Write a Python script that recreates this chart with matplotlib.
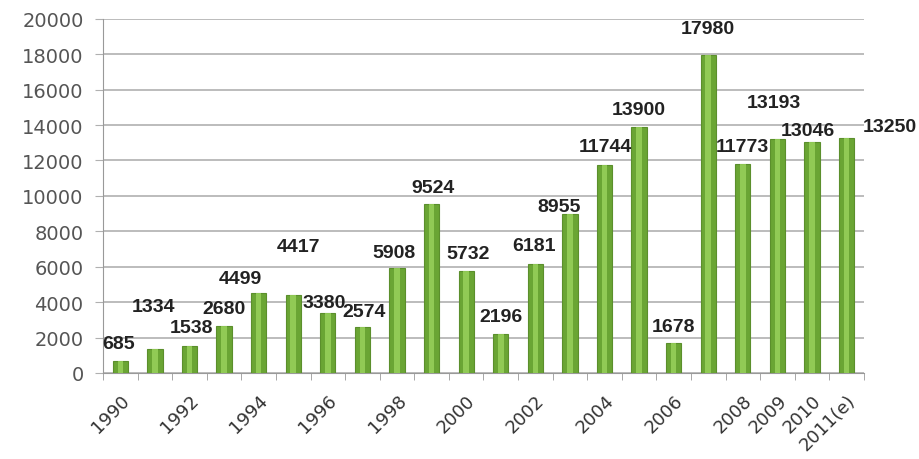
import matplotlib
matplotlib.use("Agg")
import matplotlib.pyplot as plt
import numpy as np

# data
years = ['1990', '1991', '1992', '1993', '1994', '1995', '1996', '1997', '1998', '1999', '2000',
         '2001', '2002', '2003', '2004', '2005', '2006', '2007', '2008', '2009', '2010', '2011(e)']
values = [685, 1334, 1538, 2680, 4499, 4417, 3380, 2574, 5908, 9524, 5732,
          2196, 6181, 8955, 11744, 13900, 1678, 17980, 11773, 13193, 13046, 13250]
shown_labels = ['1990', '', '1992', '', '1994', '', '1996', '', '1998', '', '2000',
                '', '2002', '', '2004', '', '2006', '', '2008', '2009', '2010', '2011(e)']

# label offsets in pixels (the original labels were scattered)
label_dx = [-2, -1, 2, 0, -18, 5, -4, 2, -3, 1, 2, 0, -1, -11, 1, 0, 0, 0, 0, -4, -4, 43]
label_dy = [17, 43, 18, 17, 15, 48, 11, 16, 16, 17, 18, 18, 18, 8, 18, 17, 17, 26, 18, 37, 11, 12]

fig = plt.figure(figsize=(9.2, 4.6), dpi=100)
ax = fig.add_axes([0.112, 0.187, 0.827, 0.770])

x = np.arange(len(years))
ax.bar(x, values, width=0.44, color='#6aa534', edgecolor='#5b8f2c', linewidth=0.8, zorder=3)
ax.bar(x, values, width=0.16, color='#9bd45e', linewidth=0, alpha=0.8, zorder=4)

for i, v in enumerate(values):
    ax.annotate(str(v), (x[i], v), xytext=(label_dx[i], label_dy[i]),
                textcoords='offset pixels', ha='center', va='center',
                fontsize=14, fontweight='bold', color='#222222',
                family='Liberation Sans', zorder=5)

ax.set_xlim(-0.5, len(years) - 0.5)
ax.set_ylim(0, 20000)
ax.set_yticks(np.arange(0, 20001, 2000))
ax.yaxis.grid(True, color='#b0b0b0', linewidth=1.2, zorder=0)
ax.set_axisbelow(True)

ax.set_xticks(x)
ax.set_xticklabels(shown_labels, rotation=45, ha='right', rotation_mode='anchor')
ax.set_xticks(np.arange(-0.5, len(years), 1), minor=True)
ax.tick_params(axis='x', which='major', length=0, pad=13, labelsize=13, labelcolor='#333333')
ax.tick_params(axis='x', which='minor', length=5, color='#999999')
ax.tick_params(axis='y', length=6, color='#b0b0b0', labelsize=14, labelcolor='#555555', pad=8)

for s in ['top', 'right']:
    ax.spines[s].set_visible(False)
ax.spines['left'].set_color('#999999')
ax.spines['bottom'].set_color('#999999')

fig.savefig('out.png', dpi=100)
